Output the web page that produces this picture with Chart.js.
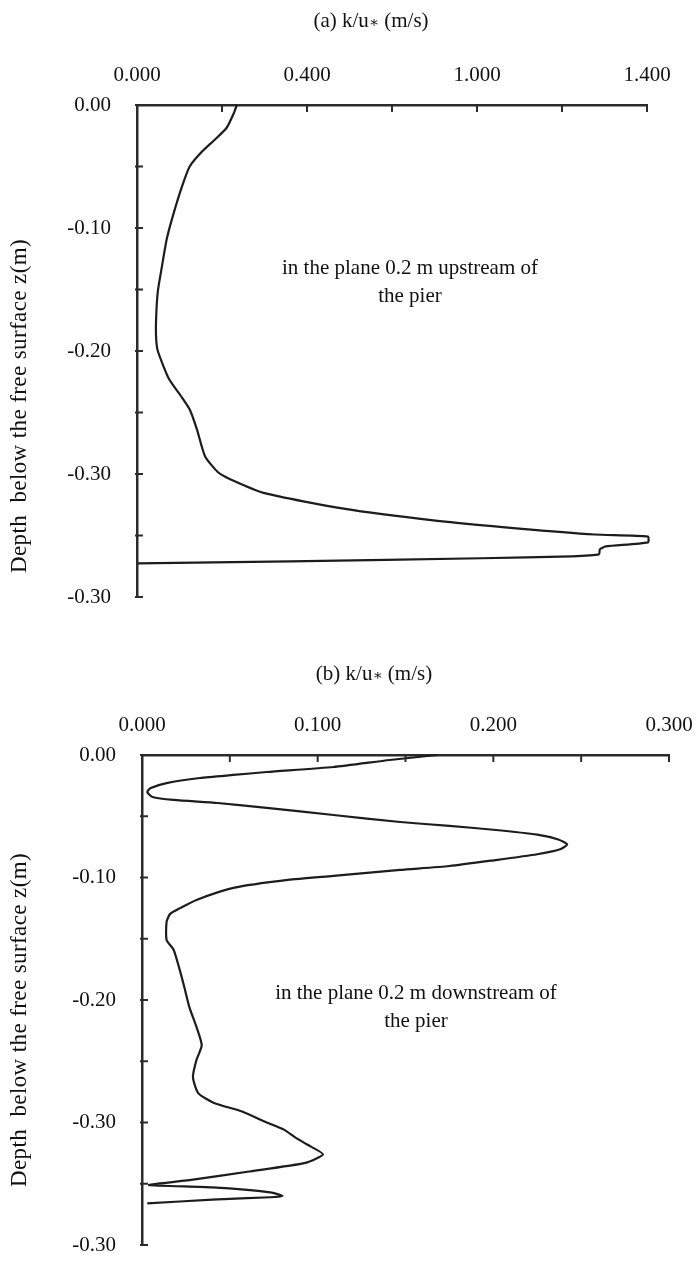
<!DOCTYPE html>
<html><head><meta charset="utf-8">
<script src="https://cdn.jsdelivr.net/npm/chart.js@4.4.1/dist/chart.umd.min.js"></script>
<style>
html,body{margin:0;padding:0;background:#fff;}
body{width:696px;height:1261px;position:relative;overflow:hidden;font-family:"Liberation Serif","Times New Roman",serif;color:#111;}
canvas{position:absolute;left:0;}
.txt{position:absolute;font-size:21px;white-space:nowrap;line-height:28px;transform:translateX(-50%);text-align:center;}
.ast{font-family:"DejaVu Serif",serif;font-size:15px;}
.ytitle{position:absolute;font-size:23px;letter-spacing:0.4px;white-space:nowrap;line-height:24px;transform:translate(-50%,-50%) rotate(-90deg);}
</style></head><body>
<canvas id="ca" width="696" height="630" style="top:0px;width:696px;height:630px"></canvas>
<canvas id="cb" width="696" height="631" style="top:630px;width:696px;height:631px"></canvas>

<div class="txt" style="left:371px;top:6px">(a) k/u<span class="ast">∗</span> (m/s)</div>
<div class="txt" style="left:410px;top:253px">in the plane 0.2 m upstream of<br>the pier</div>
<div class="ytitle" style="left:19px;top:406px">Depth&nbsp; below the free surface z(m)</div>

<div class="txt" style="left:374px;top:659px">(b) k/u<span class="ast">∗</span> (m/s)</div>
<div class="txt" style="left:416px;top:978px">in the plane 0.2 m downstream of<br>the pier</div>
<div class="ytitle" style="left:19px;top:1020px">Depth&nbsp; below the free surface z(m)</div>

<script>
// ---- data ----
const A_X = [0.235,0.228,0.211,0.183,0.153,0.124,0.106,0.087,0.070,0.059,0.049,0.045,0.045,0.049,0.075,0.106,0.124,0.141,0.160,0.190,0.218,0.298,0.486,0.702,0.899,1.077,1.202,1.202,1.103,1.089,1.087,1.023,0.810,0.361,0.002];
const A_Y = [0,-0.0065,-0.0185,-0.0282,-0.0379,-0.050,-0.0661,-0.0871,-0.1089,-0.1306,-0.1516,-0.1734,-0.1895,-0.2000,-0.2226,-0.2379,-0.2476,-0.2637,-0.2855,-0.2984,-0.3040,-0.3153,-0.3282,-0.3379,-0.3444,-0.3492,-0.3508,-0.3556,-0.3589,-0.3613,-0.3653,-0.3669,-0.3685,-0.3710,-0.3726];
const B_X = [0.168,0.141,0.109,0.071,0.052,0.033,0.014,0.005,0.003,0.006,0.018,0.043,0.071,0.109,0.147,0.175,0.200,0.225,0.237,0.242,0.238,0.225,0.200,0.175,0.147,0.109,0.083,0.052,0.031,0.022,0.016,0.014,0.014,0.018,0.021,0.024,0.027,0.031,0.034,0.031,0.029,0.032,0.041,0.057,0.071,0.081,0.087,0.094,0.103,0.093,0.061,0.027,0.004,0.040,0.073,0.080,0.073,0.040,0.003];
const B_Y = [0,-0.0041,-0.0098,-0.0139,-0.0163,-0.0188,-0.0229,-0.0269,-0.0302,-0.0343,-0.0367,-0.0392,-0.0432,-0.0490,-0.0547,-0.0579,-0.061,-0.065,-0.069,-0.073,-0.077,-0.081,-0.086,-0.0906,-0.0938,-0.0987,-0.1020,-0.1085,-0.1183,-0.1248,-0.1297,-0.1363,-0.151,-0.159,-0.173,-0.189,-0.206,-0.222,-0.237,-0.249,-0.263,-0.276,-0.284,-0.291,-0.300,-0.306,-0.312,-0.318,-0.326,-0.333,-0.340,-0.347,-0.351,-0.353,-0.357,-0.360,-0.361,-0.363,-0.366];
const A_XTICKS = ["0.000","0.400","1.000","1.400"];
const B_XTICKS = ["0.000","0.100","0.200","0.300"];
const Y_TICKS = ["0.00","-0.10","-0.20","-0.30","-0.30"];

const FONT = {family:"'Liberation Serif','Times New Roman',serif", size:21};
const AXIS = '#2b2b2b';

const inwardTicks = {
  id:'inwardTicks',
  afterDraw(chart){
    const {ctx, chartArea:a} = chart;
    const x = chart.scales.x, y = chart.scales.y;
    ctx.save(); ctx.strokeStyle = AXIS; ctx.lineWidth = 2;
    x.ticks.forEach(t=>{const p=x.getPixelForValue(t.value); ctx.beginPath(); ctx.moveTo(p,a.top); ctx.lineTo(p,a.top+7); ctx.stroke();});
    y.ticks.forEach(t=>{const p=y.getPixelForValue(t.value); ctx.beginPath(); ctx.moveTo(a.left-2,p); ctx.lineTo(a.left+6,p); ctx.stroke();});
    ctx.restore();
  }
};

function zeroPad(s){ s.paddingTop = 0; s.paddingBottom = 0; s.paddingLeft = 0; s.paddingRight = 0; }

function makeChart(id, xs, ys, xmax, xstep, xlabels, cfg){
  const pts = xs.map((v,i)=>({x:v, y:ys[i]}));
  return new Chart(document.getElementById(id), {
    type:'scatter',
    data:{datasets:[{data:pts, showLine:true, pointRadius:0, borderColor:'#1c1c1c', borderWidth:2.2, tension:0.2, clip:false}]},
    options:{
      responsive:false, animation:false, events:[],
      layout:{padding:{top:0,left:0,right:cfg.right,bottom:cfg.bottom}},
      plugins:{legend:{display:false}, tooltip:{enabled:false}},
      scales:{
        x:{type:'linear', position:'top', min:0, max:xmax,
           afterFit(s){ s.height = cfg.xh; zeroPad(s); },
           grid:{display:false, drawTicks:false},
           border:{display:true, color:AXIS, width:2.5},
           ticks:{stepSize:xstep, autoSkip:false, maxRotation:0, padding:17, color:'#111', font:FONT,
             callback:(v,i)=> i%2===0 ? (xlabels[i/2] ?? '') : ''}},
        y:{type:'linear', position:'left', min:-0.4, max:0,
           afterFit(s){ s.width = cfg.yw; zeroPad(s); },
           grid:{display:false, drawTicks:false},
           border:{display:true, color:AXIS, width:2.5},
           ticks:{stepSize:0.05, autoSkip:false, padding:26, color:'#111', font:FONT,
             callback:(v)=>{const k=Math.round(-v/0.05); return k%2===0 ? (Y_TICKS[k/2] ?? '') : '';}}}
      }
    },
    plugins:[inwardTicks]
  });
}

makeChart('ca', A_X, A_Y, 1.2, 0.2, A_XTICKS, {xh:105, yw:137, right:49, bottom:33});
makeChart('cb', B_X, B_Y, 0.3, 0.05, B_XTICKS, {xh:125, yw:142, right:27, bottom:16});
</script>
</body></html>
